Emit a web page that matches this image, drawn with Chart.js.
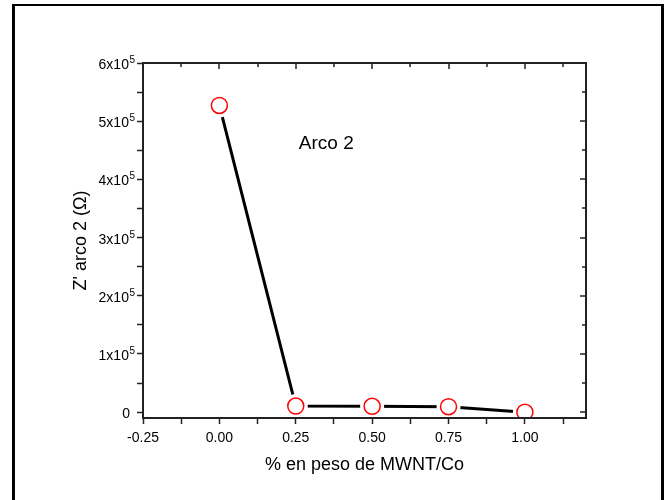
<!DOCTYPE html>
<html>
<head>
<meta charset="utf-8">
<script src="https://cdn.jsdelivr.net/npm/chart.js@4.4.1/dist/chart.umd.min.js"></script>
<style>
    html, body { margin: 0; padding: 0; background: #fff; overflow: hidden; }
    #wrap { position: relative; width: 666px; height: 500px; }
    #frame {
        position: absolute; left: 12px; top: 4px; width: 646px; height: 600px;
        border-left: 3px solid #000; border-top: 2px solid #000; border-right: 3px solid #000;
        pointer-events: none;
    }
</style>
</head>
<body>
<div id="wrap">
    <canvas id="arcoChart" width="666" height="500"></canvas>
    <div id="frame"></div>
</div>
<script>
// composition (weight fraction MWNT/Co) and Z' of arc 2
const fractions = [0.00, 0.25, 0.50, 0.75, 1.00];
const zArco2 = [527000, 10600, 10100, 9400, 0];

const xMajorTicks = [-0.25, 0.00, 0.25, 0.50, 0.75, 1.00];
const xMinorTicks = [-0.125, 0.125, 0.375, 0.625, 0.875, 1.125];
const yMajorTicks = [0, 100000, 200000, 300000, 400000, 500000, 600000];
const yMinorTicks = [50000, 150000, 250000, 350000, 450000, 550000];

const FONT = "'Liberation Sans', Arial, sans-serif";

function points() {
    return fractions.map((f, i) => ({ x: f, y: zArco2[i] }));
}

// axis box + inward ticks on top/right, drawn after the data so the masks don't eat the axes
const frameBox = {
    id: 'frameBox',
    afterDatasetsDraw(chart) {
        const { ctx, chartArea: a, scales: { x, y } } = chart;
        ctx.save();
        ctx.strokeStyle = '#222';
        ctx.lineWidth = 2;
        ctx.strokeRect(a.left, a.top, a.right - a.left, a.bottom - a.top);
        ctx.lineWidth = 1.5;
        ctx.beginPath();
        xMajorTicks.concat(xMinorTicks).forEach(v => {
            const px = Math.round(x.getPixelForValue(v));
            const len = xMajorTicks.includes(v) ? 6 : 4;
            ctx.moveTo(px, a.top);
            ctx.lineTo(px, a.top + len);
        });
        yMajorTicks.concat(yMinorTicks).forEach(v => {
            const py = Math.round(y.getPixelForValue(v));
            const len = yMajorTicks.includes(v) ? 6 : 4;
            ctx.moveTo(a.right, py);
            ctx.lineTo(a.right - len, py);
        });
        ctx.stroke();

        // y tick labels with a real superscript exponent
        ctx.fillStyle = '#000';
        ctx.textBaseline = 'alphabetic';
        const xRight = a.left - 8;
        yMajorTicks.forEach(v => {
            const py = y.getPixelForValue(v) + 6;
            if (v === 0) {
                ctx.font = '14px ' + FONT;
                ctx.textAlign = 'right';
                ctx.fillText('0', xRight - 5, py);
                return;
            }
            ctx.font = '10px ' + FONT;
            const supW = ctx.measureText('5').width;
            ctx.textAlign = 'left';
            ctx.fillText('5', xRight - supW, py - 6);
            ctx.font = '14px ' + FONT;
            ctx.textAlign = 'right';
            ctx.fillText((v / 100000) + 'x10', xRight - supW - 0.5, py);
        });

        // annotation
        ctx.font = '19px ' + FONT;
        ctx.textAlign = 'center';
        ctx.textBaseline = 'middle';
        ctx.fillText('Arco 2', x.getPixelForValue(0.35), y.getPixelForValue(461000));
        ctx.restore();
    }
};

document.addEventListener("DOMContentLoaded", () => {
    let ctx = document.getElementById('arcoChart');

    new Chart(ctx, {
        type: 'scatter',
        data: {
            datasets: [
                {
                    label: 'marcadores',
                    data: points(),
                    showLine: false,
                    pointRadius: 8,
                    pointBorderWidth: 1.5,
                    pointBorderColor: '#ff0000',
                    pointBackgroundColor: '#ffffff',
                },
                {
                    label: 'hueco',
                    data: points(),
                    showLine: false,
                    pointRadius: 12,
                    pointBorderWidth: 0,
                    pointBorderColor: '#ffffff',
                    pointBackgroundColor: '#ffffff',
                },
                {
                    label: "Z' arco 2",
                    data: points(),
                    showLine: true,
                    borderColor: '#000000',
                    borderWidth: 3,
                    pointRadius: 0,
                    tension: 0,
                }
            ]
        },
        options: {
            responsive: false,
            animation: false,
            layout: { padding: { top: 63, right: 80, left: 0, bottom: 0 } },
            plugins: {
                legend: { display: false },
                tooltip: { enabled: false },
            },
            scales: {
                x: {
                    type: 'linear',
                    min: -0.25,
                    max: 1.2,
                    afterFit: (s) => { s.height = 82; },
                    afterBuildTicks: (s) => {
                        s.ticks = xMajorTicks.concat(xMinorTicks).sort((a, b) => a - b).map(v => ({ value: v }));
                    },
                    grid: {
                        drawOnChartArea: false,
                        drawTicks: true,
                        tickLength: 6,
                        tickColor: '#222',
                        tickWidth: 1.5,
                    },
                    border: { display: false },
                    ticks: {
                        autoSkip: false,
                        maxRotation: 0,
                        padding: 6,
                        color: '#000',
                        font: { family: FONT, size: 14 },
                        callback: (v) => xMajorTicks.includes(v) ? v.toFixed(2) : '',
                    },
                    title: {
                        display: true,
                        text: '% en peso de MWNT/Co',
                        color: '#000',
                        font: { family: FONT, size: 18 },
                        padding: { top: 0, bottom: 24 },
                    },
                },
                y: {
                    type: 'linear',
                    min: -10000,
                    max: 600000,
                    afterFit: (s) => { s.width = 143; },
                    afterBuildTicks: (s) => {
                        s.ticks = yMajorTicks.concat(yMinorTicks).sort((a, b) => a - b).map(v => ({ value: v }));
                    },
                    grid: {
                        drawOnChartArea: false,
                        drawTicks: true,
                        tickLength: 6,
                        tickColor: '#222',
                        tickWidth: 1.5,
                    },
                    border: { display: false },
                    ticks: {
                        autoSkip: false,
                        padding: 3,
                        color: '#000',
                        font: { family: FONT, size: 14 },
                        // labels drawn by frameBox (exponent needs superscript)
                        callback: () => '',
                    },
                    title: {
                        display: true,
                        text: "Z' arco 2 (\u03A9)",
                        color: '#000',
                        font: { family: FONT, size: 18 },
                        padding: { top: 70, bottom: 0 },
                    },
                },
            },
        },
        plugins: [frameBox],
    });
});
</script>
</body>
</html>
